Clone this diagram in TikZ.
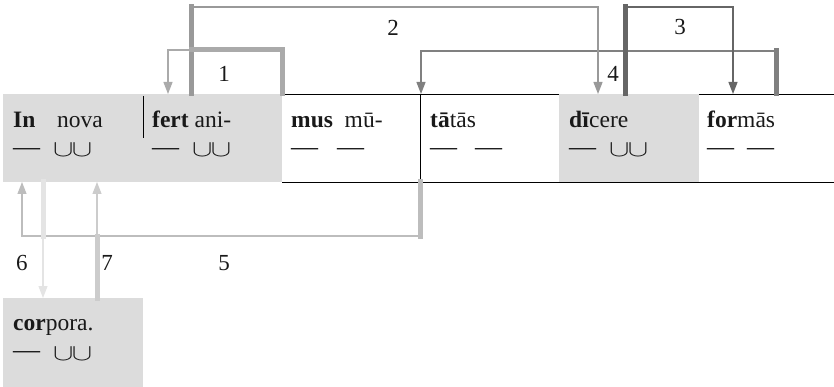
\documentclass[tikz,border=0pt]{standalone}
\usepackage{fontspec}
\setmainfont{Liberation Serif}
\usetikzlibrary{arrows.meta}
\definecolor{boxgray}{HTML}{DCDCDC}
\definecolor{aone}{HTML}{AAAAAA}
\definecolor{atwo}{HTML}{999999}
\definecolor{athree}{HTML}{666666}
\definecolor{afour}{HTML}{808080}
\definecolor{afive}{HTML}{BDBDBD}
\definecolor{asix}{HTML}{E4E4E4}
\definecolor{aseven}{HTML}{CCCCCC}
\newcommand{\twocups}{\resizebox{39pt}{13pt}{$\cup\mkern-1mu\cup$}}
\begin{document}
\begin{tikzpicture}[x=1pt,y=-1pt,
  cellbox/.style={draw=none,inner sep=0pt,anchor=north west,minimum width=#1,minimum height=88pt},
  graycell/.style={cellbox=#1,fill=boxgray},
  word/.style={inner sep=0pt,anchor=base west,font=\fontsize{23.5}{27}\selectfont,text=black!90},
  meter/.style={inner sep=0pt,anchor=west,font=\fontsize{27}{27}\selectfont,text=black!90},
  cups/.style={inner sep=0pt,anchor=west,text=black!90},
  num/.style={inner sep=0pt,font=\fontsize{23}{27}\selectfont,text=black!90},
  thickline/.style={line width=5pt,line cap=rect,line join=miter},
  thinarrow/.style={line width=1.2pt,-{Triangle[length=12pt,width=9pt]}},
  rule/.style={line width=0.9pt,black}
]
\useasboundingbox (0,0) rectangle (834,387);
% cells
\node[cellbox=138pt] (cC) at (282,94) {};
\node[cellbox=139pt] (cD) at (420,94) {};
\node[cellbox=135pt] (cF) at (699,94) {};
\draw[rule] (282,94) -- (834,94);
\draw[rule] (282,182) -- (834,182);
\node[graycell=140pt] (cA) at (3,94) {};
\node[graycell=139pt] (cB) at (143,94) {};
\node[graycell=140pt] (cE) at (559,94) {};
\node[graycell=140pt,minimum height=89pt] (cG) at (3,298) {};
\draw[rule] (cD.north west) -- (cD.south west);
\draw[rule] (143,96) -- (143,138);
% words
\node[word] (w1) at (13,128) {\textbf{In}};
\node[word] (w2) at (57,128) {nova};
\node[word] (w3) at (152,128) {\textbf{fert} ani-};
\node[word] (w4) at (291,128) {\textbf{mus}\ \ mū-};
\node[word] (w5) at (430,128) {\textbf{tā}tās};
\node[word] (w6) at (569,128) {\textbf{dī}cere};
\node[word] (w7) at (707,128) {\textbf{for}mās};
\node[word] (w8) at (13,330) {\textbf{cor}pora.};
% meter
\node[meter] (m1a) at (13,152) {—};
\node[cups] (m1b) at (53,150.5) {\twocups};
\node[meter] (m2a) at (152,152) {—};
\node[cups] (m2b) at (192,150.5) {\twocups};
\node[meter] (m3a) at (291,152) {—};
\node[meter] (m3b) at (337,152) {—};
\node[meter] (m4a) at (430,152) {—};
\node[meter] (m4b) at (475,152) {—};
\node[meter] (m5a) at (569,152) {—};
\node[cups] (m5b) at (609,150.5) {\twocups};
\node[meter] (m6a) at (707,152) {—};
\node[meter] (m6b) at (747,152) {—};
\node[meter] (m7a) at (13,355) {—};
\node[cups] (m7b) at (53,353.5) {\twocups};
% connector points
\coordinate (s1) at (282,94); \coordinate (k1) at (191,50); \coordinate (e1) at (168,94);
\coordinate (s2) at (191,94); \coordinate (k2) at (191,7);  \coordinate (e2) at (598,94);
\coordinate (s3) at (625,94); \coordinate (k3) at (625,7);  \coordinate (e3) at (733,94);
\coordinate (s4) at (776,94); \coordinate (k4) at (776,51); \coordinate (e4) at (421,94);
\coordinate (s5) at (420,182); \coordinate (k5) at (420,236); \coordinate (e5) at (22,182);
\coordinate (s6) at (43,182); \coordinate (k6) at (43,236); \coordinate (e6) at (43,298);
\coordinate (s7) at (97,298); \coordinate (k7) at (97,236); \coordinate (e7) at (97,182);
% arrow 4
\draw[thickline,afour] (s4) -- (k4);
\draw[thinarrow,afour] (k4) -| (e4);
% arrow 2
\draw[thickline,atwo] (s2) -- (k2);
\draw[thinarrow,atwo] (k2) -| (e2);
% arrow 1
\draw[thickline,aone] (s1) |- (k1);
\draw[thinarrow,aone] (k1) -| (e1);
% arrow 3
\draw[thickline,athree] (s3) -- (k3);
\draw[thinarrow,athree] (k3) -| (e3);
% arrow 5
\draw[thickline,afive] (s5) -- (k5);
\draw[thinarrow,afive] (k5) -| (e5);
% arrow 6
\draw[thickline,asix] (s6) -- (k6);
\draw[thinarrow,asix] (k6) -- (e6);
% arrow 7
\draw[thickline,aseven] (s7) -- (k7);
\draw[thinarrow,aseven] (k7) -- (e7);
% labels
\node[num] (n1) at (224,74) {1};
\node[num] (n2) at (393,28) {2};
\node[num] (n3) at (680,27) {3};
\node[num] (n4) at (613,74) {4};
\node[num] (n5) at (224,263) {5};
\node[num] (n6) at (22,263) {6};
\node[num] (n7) at (107,263) {7};
\end{tikzpicture}
\end{document}
